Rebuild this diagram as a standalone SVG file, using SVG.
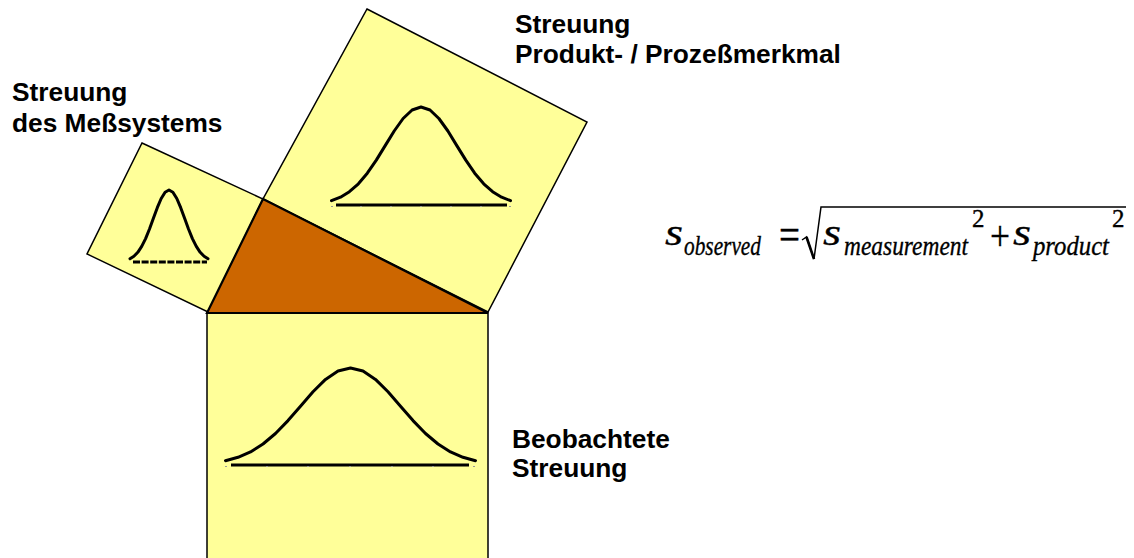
<svg xmlns="http://www.w3.org/2000/svg" width="1134" height="558" viewBox="0 0 1134 558">
<style>
.sq{fill:#FFFF99;stroke:#000;stroke-width:1.5;stroke-linejoin:miter}
.tri{fill:#CC6600;stroke:#000;stroke-width:2.2;stroke-linejoin:miter}
.bell{fill:none;stroke:#000;stroke-width:3;stroke-linejoin:round;stroke-linecap:round}
.base{stroke:#000;stroke-width:3.2;fill:none}
.tick{stroke:#999;stroke-width:1;fill:none}
.lbl{font-family:"Liberation Sans",Arial,sans-serif;font-weight:bold;font-size:26.3px;fill:#000}
.mi{font-family:"Liberation Serif","Times New Roman",serif;font-style:italic;fill:#000;stroke:#000;stroke-width:0.35}
.mr{font-family:"Liberation Serif","Times New Roman",serif;fill:#000;stroke:#000;stroke-width:0.35}
</style>
<rect width="1134" height="558" fill="#fff"/>

<g id="node-measurement-square">
<polygon class="sq" points="142,143 263,199 208,312 87,254"/>
<polyline class="bell" points="130,258.8 133.9,256.3 137.8,252.3 141.7,246.4 145.6,238.6 149.5,229 153.4,218.3 157.3,207.7 161.2,198.5 165.1,192.2 169,190 172.9,192.2 176.8,198.5 180.7,207.7 184.6,218.3 188.5,229 192.4,238.6 196.3,246.4 200.2,252.3 204.1,256.3 208,258.8"/>
<line class="base" x1="133" y1="262" x2="207" y2="262" stroke-dasharray="7 1.6"/>
</g>

<g id="node-product-square">
<polygon class="sq" points="367,9 587,122 488,312 263,199"/>
<polyline class="bell" points="331.5,200.7 340.5,197.2 349.4,191.7 358.4,183.8 367.3,173.2 376.3,160.1 385.2,145.6 394.2,131 403.1,118.5 412.1,110 421,107 430,110 438.9,118.5 447.9,131 456.8,145.6 465.8,160.1 474.7,173.2 483.7,183.8 492.6,191.7 501.6,197.2 510.5,200.7"/>
<line class="base" x1="336" y1="205" x2="507" y2="205"/>
<path class="tick" d="M331,206.5h2 M360,206.5h2 M390,206.5h2 M420,206.5h2 M450,206.5h2 M480,206.5h2 M509,206.5h2"/>
</g>

<g id="node-observed-square">
<rect class="sq" x="207" y="313" width="281" height="260"/>
<polyline class="bell" points="225.5,460.7 238,457.3 250.5,451.9 263,444 275.5,433.5 288,420.6 300.5,406.2 313,391.8 325.5,379.4 338,371 350.5,368 363,371 375.5,379.4 388,391.8 400.5,406.2 413,420.6 425.5,433.5 438,444 450.5,451.9 463,457.3 475.5,460.7"/>
<line class="base" x1="231" y1="465" x2="469" y2="465"/>
<path class="tick" d="M225,466.5h2 M266,466.5h2 M307,466.5h2 M349,466.5h2 M391,466.5h2 M432,466.5h2 M473,466.5h2"/>
</g>

<g id="node-triangle">
<polygon class="tri" points="263,199 488,313 207,313"/>
</g>

<g id="connectors"></g>

<g id="labels">
<text class="lbl" x="12" y="101">Streuung</text>
<text class="lbl" x="12" y="132">des Meßsystems</text>
<text class="lbl" x="515" y="33">Streuung</text>
<text class="lbl" x="515" y="63">Produkt- / Prozeßmerkmal</text>
<text class="lbl" x="512" y="448">Beobachtete</text>
<text class="lbl" x="512" y="477">Streuung</text>
</g>

<g id="formula">
<text class="mi" x="665" y="245" font-size="38" textLength="18" lengthAdjust="spacingAndGlyphs">s</text>
<text class="mi" x="684" y="255" font-size="27" textLength="77" lengthAdjust="spacingAndGlyphs">observed</text>
<text class="mr" x="779" y="249" font-size="44" textLength="21" lengthAdjust="spacingAndGlyphs">=</text>
<path d="M802,240 L806.5,237 L814,259 L821,207 H1126" fill="none" stroke="#000" stroke-width="1.5" stroke-linejoin="miter"/>
<path d="M806.5,237 L814,259" fill="none" stroke="#000" stroke-width="2.6"/>
<text class="mi" x="823" y="245" font-size="38" textLength="18" lengthAdjust="spacingAndGlyphs">s</text>
<text class="mi" x="844" y="255" font-size="27" textLength="124" lengthAdjust="spacingAndGlyphs">measurement</text>
<text class="mr" x="972" y="227" font-size="25">2</text>
<text class="mr" x="990" y="250" font-size="42" textLength="20" lengthAdjust="spacingAndGlyphs">+</text>
<text class="mi" x="1013" y="245" font-size="38" textLength="18" lengthAdjust="spacingAndGlyphs">s</text>
<text class="mi" x="1033" y="255" font-size="27" textLength="76" lengthAdjust="spacingAndGlyphs">product</text>
<text class="mr" x="1112" y="227" font-size="25">2</text>
</g>
</svg>
